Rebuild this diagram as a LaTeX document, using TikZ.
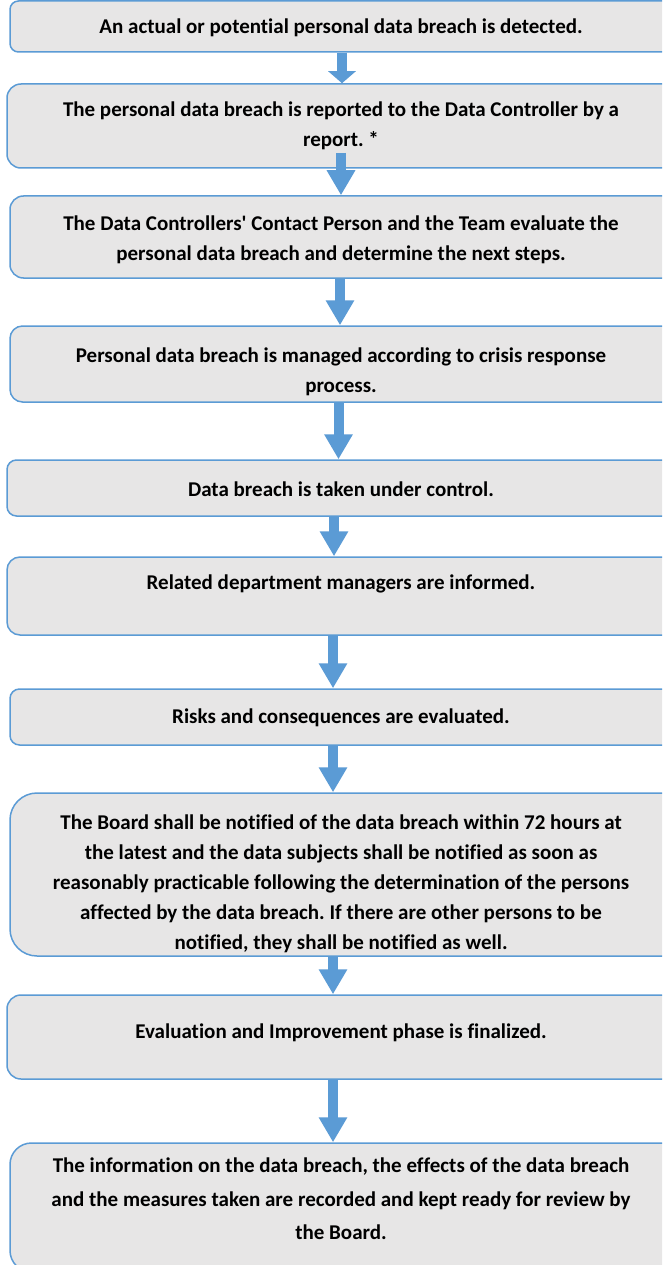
\documentclass[tikz,border=0pt]{standalone}
\usepackage{fontspec}
\setmainfont{Carlito}[Ligatures={TeXOff,NoCommon}]
\usetikzlibrary{arrows.meta}
\definecolor{wblue}{HTML}{5B9BD5}
\definecolor{wgray}{HTML}{E7E6E6}
\begin{document}
\frenchspacing
\begin{tikzpicture}[x=1pt,y=-1pt,
  stepbox/.style={draw=wblue, line width=1.5pt, fill=wgray, inner sep=0pt},
  steptext/.style={font=\bfseries\fontsize{21}{30}\selectfont, align=center, inner sep=0pt, text=black},
  flow/.style={draw=wblue, line width=10pt, -{Triangle[width=27pt,length=25pt]}},
  flowshort/.style={draw=wblue, line width=10pt, -{Triangle[width=27pt,length=12pt]}}
]
\useasboundingbox (0,0) rectangle (662,1265);
\clip (0,0) rectangle (662,1265);
\fill[white] (0,0) rectangle (662,1265);

% boxes (right edges run off the page)
\node[stepbox, minimum width=680pt, minimum height=51pt,  rounded corners=8.5pt] (b1)  at (350,26.5) {};
\node[stepbox, minimum width=683pt, minimum height=84pt,  rounded corners=14pt]  (b2)  at (348.5,126) {};
\node[stepbox, minimum width=680pt, minimum height=82pt,  rounded corners=13.5pt] (b3) at (350,237) {};
\node[stepbox, minimum width=680pt, minimum height=76pt,  rounded corners=12.5pt] (b4) at (350,364) {};
\node[stepbox, minimum width=683pt, minimum height=56pt,  rounded corners=9.5pt] (b5)  at (348.5,488) {};
\node[stepbox, minimum width=683pt, minimum height=78pt,  rounded corners=13pt]  (b6)  at (348.5,596) {};
\node[stepbox, minimum width=680pt, minimum height=56pt,  rounded corners=9.5pt] (b7)  at (350,717) {};
\node[stepbox, minimum width=680pt, minimum height=163pt, rounded corners=27pt]  (b8)  at (350,874.5) {};
\node[stepbox, minimum width=683pt, minimum height=84pt,  rounded corners=14pt]  (b9)  at (348.5,1037) {};
\node[stepbox, minimum width=680pt, minimum height=129pt, rounded corners=21.5pt] (b10) at (350,1207.5) {};

% texts
\node[steptext] (t1) at (341,28) {An actual or potential personal data breach is detected.};
\node[steptext] (t2) at (341,126) {The personal data breach is reported to the Data Controller by a\\report. *};
\node[steptext] (t3) at (341,240) {The Data Controllers' Contact Person and the Team evaluate the\\personal data breach and determine the next steps.};
\node[steptext] (t4) at (341,371.5) {Personal data breach is managed according to crisis response\\process.};
\node[steptext] (t5) at (341,489) {Data breach is taken under control.};
\node[steptext] (t6) at (341,584) {Related department managers are informed.};
\node[steptext] (t7) at (341,718) {Risks and consequences are evaluated.};
\node[steptext] (t8) at (341,884) {The Board shall be notified of the data breach within 72 hours at\\the latest and the data subjects shall be notified as soon as\\reasonably practicable following the determination of the persons\\affected by the data breach. If there are other persons to be\\notified, they shall be notified as well.};
\node[steptext] (t9) at (341,1033) {Evaluation and Improvement phase is finalized.};
\node[steptext, font=\bfseries\fontsize{21}{33.5}\selectfont] (t10) at (341,1199) {The information on the data breach, the effects of the data breach\\and the measures taken are recorded and kept ready for review by\\the Board.};

% arrows
\coordinate (a2) at (341,153);
\draw[flowshort] (342,0 |- b1.south) -- (342,0 |- b2.north);
\draw[flow] (a2) -- (341,0 |- b3.north);
\draw[flow] (340,0 |- b3.south) -- (340,0 |- b4.north);
\draw[flow] (338.5,0 |- b4.south) -- (338.5,0 |- b5.north);
\draw[flow] (334,0 |- b5.south) -- (334,0 |- b6.north);
\draw[flow] (333,0 |- b6.south) -- (333,0 |- b7.north);
\draw[flow] (333,0 |- b7.south) -- (333,0 |- b8.north);
\draw[flow] (333,0 |- b8.south) -- (333,0 |- b9.north);
\draw[flow] (333,0 |- b9.south) -- (333,0 |- b10.north);
\end{tikzpicture}
\end{document}
